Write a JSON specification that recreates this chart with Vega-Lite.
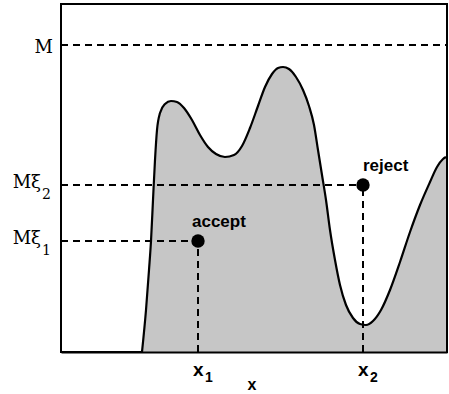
{
  "$schema": "https://vega.github.io/schema/vega-lite/v6.json",
  "width": 386,
  "height": 348,
  "autosize": "none",
  "padding": {"left": 61, "top": 4, "right": 2, "bottom": 42},
  "background": "white",
  "config": {"view": {"stroke": "black", "strokeWidth": 2}},
  "datasets": {
    "curve": [
      {"x": 81, "y": 0}, {"x": 85, "y": 42}, {"x": 88, "y": 82}, {"x": 90, "y": 111},
      {"x": 92, "y": 152}, {"x": 94, "y": 192}, {"x": 96, "y": 222}, {"x": 99, "y": 239},
      {"x": 104, "y": 248}, {"x": 110, "y": 251}, {"x": 116, "y": 250}, {"x": 123, "y": 244},
      {"x": 131, "y": 232}, {"x": 139, "y": 217}, {"x": 147, "y": 205}, {"x": 155, "y": 198},
      {"x": 164, "y": 195}, {"x": 173, "y": 197}, {"x": 181, "y": 206}, {"x": 189, "y": 224},
      {"x": 197, "y": 246}, {"x": 204, "y": 265}, {"x": 211, "y": 278}, {"x": 217, "y": 284},
      {"x": 222, "y": 285}, {"x": 228, "y": 283}, {"x": 235, "y": 275}, {"x": 242, "y": 262},
      {"x": 248, "y": 246}, {"x": 253, "y": 227}, {"x": 257, "y": 202}, {"x": 261, "y": 177},
      {"x": 265, "y": 152}, {"x": 269, "y": 122}, {"x": 274, "y": 92}, {"x": 279, "y": 67},
      {"x": 285, "y": 47}, {"x": 292, "y": 34}, {"x": 299, "y": 28}, {"x": 305, "y": 27},
      {"x": 312, "y": 31}, {"x": 320, "y": 42}, {"x": 329, "y": 62}, {"x": 339, "y": 90},
      {"x": 349, "y": 120}, {"x": 359, "y": 147}, {"x": 369, "y": 170}, {"x": 376, "y": 185},
      {"x": 382, "y": 193}, {"x": 385, "y": 195}
    ],
    "guides": [
      {"x": 0, "x2": 386, "y": 307, "y2": 307},
      {"x": 0, "x2": 302, "y": 167, "y2": 167},
      {"x": 0, "x2": 137, "y": 111, "y2": 111},
      {"x": 137, "x2": 137, "y": 0, "y2": 111},
      {"x": 302, "x2": 302, "y": 0, "y2": 167}
    ],
    "samples": [
      {"x": 137, "y": 111, "label": "accept"},
      {"x": 302, "y": 167, "label": "reject"}
    ],
    "levels": [
      {"x": 0, "y": 307, "base": "M", "sub": ""},
      {"x": 0, "y": 167, "base": "Mξ", "sub": "2"},
      {"x": 0, "y": 111, "base": "Mξ", "sub": "1"}
    ],
    "draws": [
      {"x": 137, "y": 0, "base": "x", "sub": "1"},
      {"x": 302, "y": 0, "base": "x", "sub": "2"}
    ]
  },
  "layer": [
    {
      "data": {"name": "curve"},
      "mark": {"type": "area", "interpolate": "monotone", "color": "#c6c6c6"},
      "encoding": {
        "x": {"field": "x", "type": "quantitative",
              "scale": {"domain": [0, 386], "nice": false, "zero": false},
              "axis": {"domain": true, "domainColor": "black", "domainWidth": 2, "ticks": false, "labels": false, "grid": false, "title": null, "zindex": 1}},
        "y": {"field": "y", "type": "quantitative",
              "scale": {"domain": [0, 348], "nice": false, "zero": false},
              "axis": null}
      }
    },
    {
      "data": {"name": "curve"},
      "mark": {"type": "line", "interpolate": "monotone", "color": "black", "strokeWidth": 2.2},
      "encoding": {
        "x": {"field": "x", "type": "quantitative"},
        "y": {"field": "y", "type": "quantitative"}
      }
    },
    {
      "data": {"name": "guides"},
      "mark": {"type": "rule", "color": "black", "strokeWidth": 2, "strokeDash": [7, 5]},
      "encoding": {
        "x": {"field": "x", "type": "quantitative"},
        "x2": {"field": "x2"},
        "y": {"field": "y", "type": "quantitative"},
        "y2": {"field": "y2"}
      }
    },
    {
      "data": {"name": "samples"},
      "mark": {"type": "point", "shape": "circle", "filled": true, "color": "black", "size": 180, "opacity": 1},
      "encoding": {
        "x": {"field": "x", "type": "quantitative"},
        "y": {"field": "y", "type": "quantitative"}
      }
    },
    {
      "data": {"name": "samples"},
      "transform": [{"filter": "datum.label === 'accept'"}],
      "mark": {"type": "text", "align": "left", "baseline": "alphabetic", "dx": -6, "dy": -14,
               "font": "Liberation Sans", "fontWeight": "bold", "fontSize": 17, "color": "black"},
      "encoding": {
        "x": {"field": "x", "type": "quantitative"},
        "y": {"field": "y", "type": "quantitative"},
        "text": {"field": "label"}
      }
    },
    {
      "data": {"name": "samples"},
      "transform": [{"filter": "datum.label === 'reject'"}],
      "mark": {"type": "text", "align": "left", "baseline": "alphabetic", "dx": 0, "dy": -14,
               "font": "Liberation Sans", "fontWeight": "bold", "fontSize": 17, "color": "black"},
      "encoding": {
        "x": {"field": "x", "type": "quantitative"},
        "y": {"field": "y", "type": "quantitative"},
        "text": {"field": "label"}
      }
    },
    {
      "data": {"name": "levels"},
      "transform": [{"filter": "datum.sub === ''"}],
      "mark": {"type": "text", "align": "right", "baseline": "alphabetic", "dx": -8, "dy": 8,
               "font": "DejaVu Serif", "fontSize": 18, "color": "black"},
      "encoding": {
        "x": {"field": "x", "type": "quantitative"},
        "y": {"field": "y", "type": "quantitative"},
        "text": {"field": "base"}
      }
    },
    {
      "data": {"name": "levels"},
      "transform": [{"filter": "datum.sub !== ''"}],
      "mark": {"type": "text", "align": "right", "baseline": "alphabetic", "dx": -20, "dy": 3,
               "font": "DejaVu Serif", "fontSize": 18, "color": "black"},
      "encoding": {
        "x": {"field": "x", "type": "quantitative"},
        "y": {"field": "y", "type": "quantitative"},
        "text": {"field": "base"}
      }
    },
    {
      "data": {"name": "levels"},
      "transform": [{"filter": "datum.sub !== ''"}],
      "mark": {"type": "text", "align": "left", "baseline": "alphabetic", "dx": -19, "dy": 14,
               "font": "DejaVu Serif", "fontSize": 14, "color": "black"},
      "encoding": {
        "x": {"field": "x", "type": "quantitative"},
        "y": {"field": "y", "type": "quantitative"},
        "text": {"field": "sub"}
      }
    },
    {
      "data": {"name": "draws"},
      "mark": {"type": "text", "align": "left", "baseline": "alphabetic", "dx": -5, "dy": 24,
               "font": "Liberation Sans", "fontWeight": "bold", "fontSize": 19, "color": "black"},
      "encoding": {
        "x": {"field": "x", "type": "quantitative"},
        "y": {"field": "y", "type": "quantitative"},
        "text": {"field": "base"}
      }
    },
    {
      "data": {"name": "draws"},
      "mark": {"type": "text", "align": "left", "baseline": "alphabetic", "dx": 7, "dy": 30,
               "font": "Liberation Sans", "fontWeight": "bold", "fontSize": 14, "color": "black"},
      "encoding": {
        "x": {"field": "x", "type": "quantitative"},
        "y": {"field": "y", "type": "quantitative"},
        "text": {"field": "sub"}
      }
    },
    {
      "data": {"values": [{"x": 191, "y": 0, "t": "x"}]},
      "mark": {"type": "text", "align": "center", "baseline": "alphabetic", "dy": 38,
               "font": "Liberation Sans", "fontWeight": "bold", "fontSize": 16, "color": "black"},
      "encoding": {
        "x": {"field": "x", "type": "quantitative"},
        "y": {"field": "y", "type": "quantitative"},
        "text": {"field": "t"}
      }
    }
  ]
}
